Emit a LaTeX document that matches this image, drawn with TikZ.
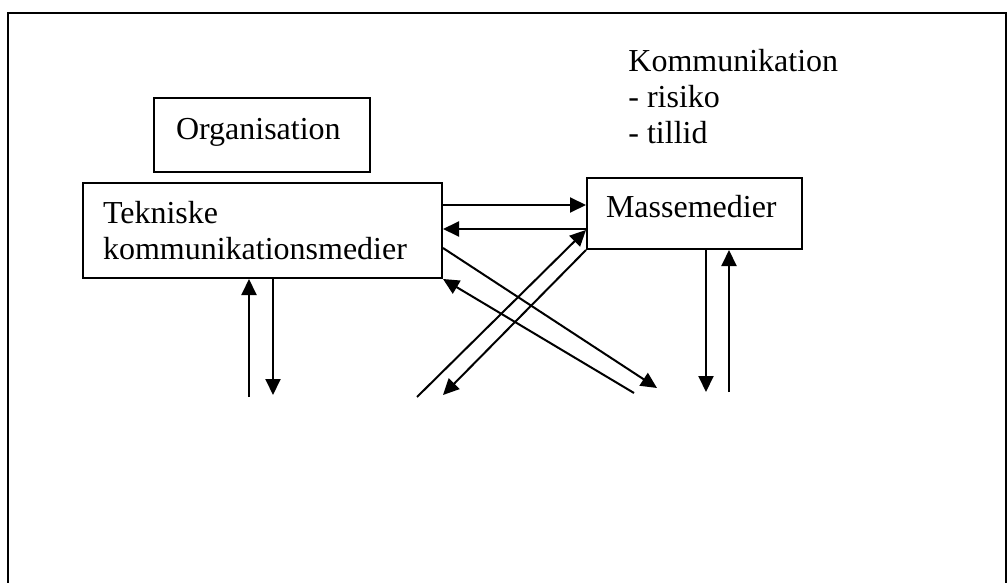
\documentclass[tikz,border=0pt]{standalone}
\usepackage{fontspec}
\setmainfont{Liberation Serif}
\usetikzlibrary{arrows.meta,positioning}

\begin{document}
\begin{tikzpicture}[x=0.5pt,y=-0.5pt,
      font=\fontsize{16}{18}\selectfont,
      mbox/.style={draw,line width=1pt,rectangle,inner ysep=0pt,align=left,
                   anchor=north west},
      arr/.style={-{Triangle[length=8pt,width=7.5pt]},line width=1pt}]
    \useasboundingbox (0,0) rectangle (1007,583);
    \clip (0,0) rectangle (1007,583);
    % frame
    \draw[line width=1pt] (8,620) |- (1006,13) -- (1006,620);
    % boxes
    \node[mbox,inner xsep=11pt,text width=86pt,text height=21pt,text depth=16pt]
      (org) at (153,97) {Organisation};
    \node[mbox,inner xsep=10pt,text width=159.5pt,minimum height=47.5pt]
      (tek) at (82,182) {Tekniske\\kommunikationsmedier};
    \node[mbox,inner xsep=9.5pt,text width=88.5pt,text height=20pt,text depth=15.5pt]
      (mas) at (586,177) {Massemedier};
    \node[align=left,anchor=north west,inner sep=0pt] (komm) at (628,49)
      {Kommunikation\\- risiko\\- tillid};
    % loose ends
    \coordinate (tkup) at (249,397);
    \coordinate (tkdn) at (273,395);
    \coordinate (xdn) at (443,395);
    \coordinate (xup) at (417,397);
    \coordinate (ydn) at (657,388);
    \coordinate (yup) at (634,393);
    \coordinate (msdn) at (706,392);
    \coordinate (msup) at (729,392);
    % connectors
    \draw[arr] (tek.east |- 0,205) -- (mas.west |- 0,205);
    \draw[arr] (mas.west |- 0,229) -- (tek.east |- 0,229);
    \draw[arr] (mas.south west) -- (xdn);
    \draw[arr] (xup) -- (mas.west |- 0,230);
    \draw[arr] (tek.east |- 0,248) -- (ydn);
    \draw[arr] (yup) -- (tek.south east);
    \draw[arr] (tkup) -- (tkup |- tek.south);
    \draw[arr] (tkdn |- tek.south) -- (tkdn);
    \draw[arr] (msdn |- mas.south) -- (msdn);
    \draw[arr] (msup) -- (msup |- mas.south);
  \end{tikzpicture}
\end{document}
